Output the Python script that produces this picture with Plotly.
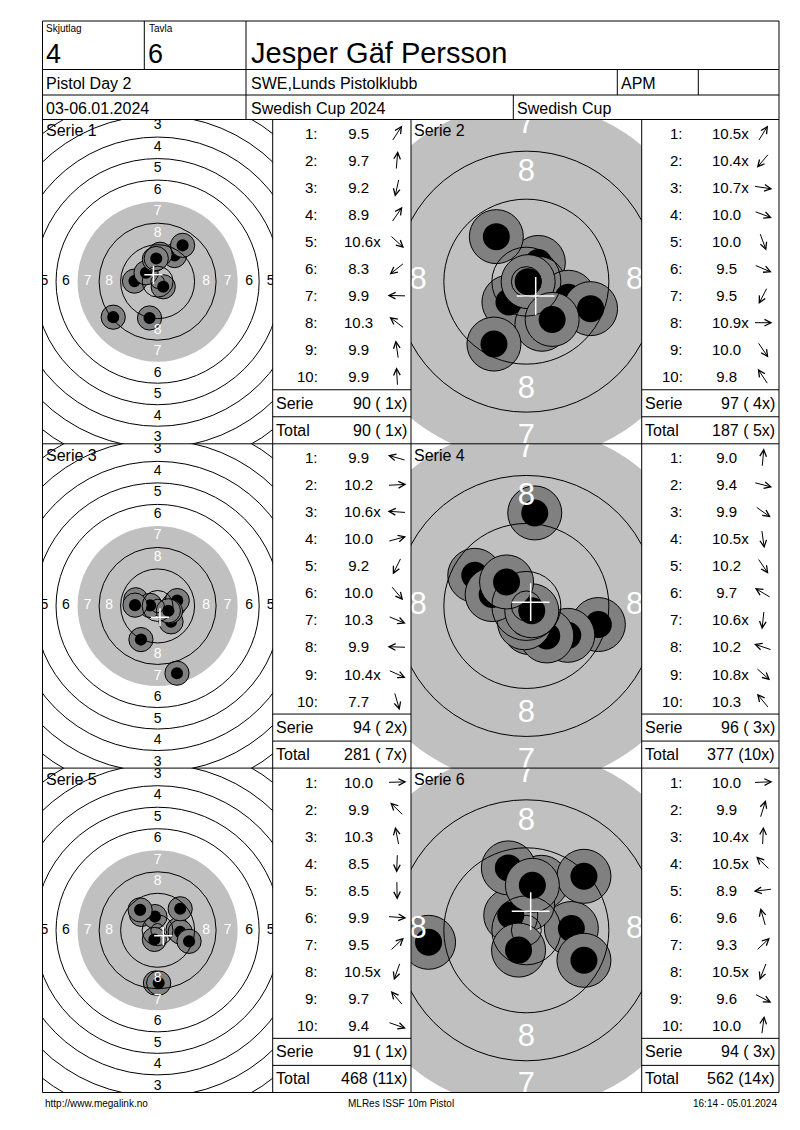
import math
import numpy as np
import plotly.graph_objs as go

# the page body has an 8px margin, so the figure starts at (8, 8)
OFF = 8
W, H = 780, 1112
FONT = 'Liberation Sans, Arial, sans-serif'

# header / footer texts
squad = '4'
target_no = '6'
shooter = 'Jesper Gäf Persson'
match_day = 'Pistol Day 2'
club = 'SWE,Lunds Pistolklubb'
shooter_class = 'APM'
dates = '03-06.01.2024'
event = 'Swedish Cup 2024'
event_short = 'Swedish Cup'
footer_left = 'http://www.megalink.no'
footer_mid = 'MLRes ISSF 10m Pistol'
footer_right = '16:14 - 05.01.2024'

serie_names = ['Serie 1', 'Serie 2', 'Serie 3', 'Serie 4', 'Serie 5', 'Serie 6']

# shots: score text and hit position (mm from centre, y up)
s1_scores = ['9.5', '9.7', '9.2', '8.9', '10.6x', '8.3', '9.9', '10.3', '9.9', '9.9']
s1_x = [6.3, 0.9, -3.0, 9.3, 2.1, -16.5, -8.6, -4.3, -1.2, -0.5]
s1_y = [9.7, 10.2, -13.5, 13.5, -1.9, -13.2, 0.2, 3.3, 8.3, 8.6]

s2_scores = ['10.5x', '10.4x', '10.7x', '10.0', '10.0', '9.5', '9.5', '10.9x', '10.0', '9.8']
s2_x = [2.0, -2.9, 2.0, 7.0, 2.6, 10.7, -5.4, 0.3, 4.3, -5.0]
s2_y = [3.2, -3.4, -0.3, -2.6, -7.1, -4.5, -10.4, 0.0, -6.3, 7.5]

s3_scores = ['9.9', '10.2', '10.6x', '10.0', '9.2', '10.0', '10.3', '9.9', '10.4x', '7.7']
s3_x = [-8.1, 6.0, -2.8, 7.3, -6.2, 5.0, 4.8, -8.4, 4.0, 7.2]
s3_y = [2.3, 0.3, 0.2, 2.0, -12.5, -5.9, -2.0, 0.3, -1.8, -25.0]

s4_scores = ['9.0', '9.4', '9.9', '10.5x', '10.2', '9.7', '10.6x', '10.2', '10.8x', '10.3']
s4_x = [1.4, 12.0, 6.9, 0.5, 3.4, -8.6, -0.3, -5.7, 0.9, -3.3]
s4_y = [15.5, -3.1, -4.9, -3.6, -5.0, 5.1, -2.8, 1.9, -0.8, 4.0]

s5_scores = ['10.0', '9.9', '10.3', '8.5', '8.5', '9.9', '9.5', '10.5x', '9.7', '9.4']
s5_x = [7.6, -6.0, -1.0, -0.8, 0.4, 8.4, 8.4, -1.2, -6.5, 11.7]
s5_y = [0.2, 5.9, 5.1, -19.6, -19.6, -0.6, 8.0, -3.4, 7.6, -4.1]

s6_scores = ['10.0', '9.9', '10.4x', '10.5x', '8.9', '9.6', '9.3', '10.5x', '9.6', '10.0']
s6_x = [7.5, 2.5, 0.2, -2.6, -16.3, -3.0, 9.6, -1.3, 9.6, 1.0]
s6_y = [0.3, 8.0, 4.4, 2.5, -2.0, 10.4, 9.0, -3.3, -5.0, 7.5]

all_scores = [s1_scores, s2_scores, s3_scores, s4_scores, s5_scores, s6_scores]
all_x = [s1_x, s2_x, s3_x, s4_x, s5_x, s6_x]
all_y = [s1_y, s2_y, s3_y, s4_y, s5_y, s6_y]

# ISSF 10m pistol target (mm)
ring_numbers = list(range(1, 11))
ring_radius = {n: 5.75 + 8 * (10 - n) for n in ring_numbers}
inner_ten = 2.5
black_radius = ring_radius[7]
shot_radius = 2.25

# page layout (pixels of the browser window)
L, R = 42.5, 779
row_tops = [119.5, 443.8, 768.1, 1092.5]
rh = (row_tops[1] - row_tops[0]) / 12


def px(x):
    return (x - OFF) / W


def py(y):
    return 1 - (y - OFF) / H


fig = go.Figure()
shapes = []
annotations = []


def line(x0, y0, x1, y1):
    shapes.append(dict(type='line', xref='paper', yref='paper', x0=px(x0), y0=py(y0),
                       x1=px(x1), y1=py(y1), line=dict(color='black', width=1), layer='above'))


def text(x, y, s, size, anchor='left', color='black'):
    annotations.append(dict(x=px(x), y=py(y), xref='paper', yref='paper', text=s, showarrow=False,
                            xanchor=anchor, yanchor='middle', font=dict(family=FONT, size=size, color=color)))


run_total = 0
run_x = 0
for i in range(6):
    row, col = i // 2, i % 2
    top, bottom = row_tops[row], row_tops[row + 1]
    if col == 0:
        x0, x1, scale, label_size, cross_size = L, 272.7, 2.69, 14, 13
        lx0, lx1, colon_r, score_l, arrow_c = 272.7, 411, 320, 341.5, 397
    else:
        x0, x1, scale, label_size, cross_size = 411, 641.7, 6.0, 31, 27
        lx0, lx1, colon_r, score_l, arrow_c = 641.7, R, 684.5, 710, 763

    sid = '' if i == 0 else str(i + 1)
    xr, yr = 'x' + sid, 'y' + sid
    hw = (x1 - x0) / 2 / scale
    hh = (bottom - top) / 2 / scale
    fig.update_layout(**{
        'xaxis' + sid: dict(domain=[px(x0), px(x1)], range=[-hw, hw], visible=False,
                            fixedrange=True, anchor=yr),
        'yaxis' + sid: dict(domain=[py(bottom), py(top)], range=[-hh, hh], visible=False,
                            fixedrange=True, anchor=xr),
    })

    def circle(r, cx=0, cy=0, fill=None, lw=1):
        shapes.append(dict(type='circle', xref=xr, yref=yr, x0=cx - r, x1=cx + r, y0=cy - r, y1=cy + r,
                           fillcolor=fill if fill else 'rgba(0,0,0,0)',
                           line=dict(color='black', width=lw), layer='below'))

    circle(black_radius, fill='#c0c0c0', lw=0)
    xs, ys, sc = all_x[i], all_y[i], all_scores[i]
    for k in range(10):
        circle(2 * shot_radius, xs[k], ys[k], fill='#808080', lw=1)
        circle(shot_radius, xs[k], ys[k], fill='black', lw=0)
    for n in ring_numbers:
        if n != 7:
            circle(ring_radius[n])
    circle(inner_ten)

    # ring numbers
    lab_x, lab_y, lab_t, lab_c = [], [], [], []
    for n in range(1, 9):
        d = ring_radius[n] - 3.7
        for dx, dy in [(0, d), (0, -d), (d, 0), (-d, 0)]:
            lab_x.append(dx)
            lab_y.append(dy)
            lab_t.append(str(n))
            lab_c.append('white' if n >= 7 else 'black')
    fig.add_trace(go.Scatter(x=lab_x, y=lab_y, text=lab_t, mode='text', textposition='middle center',
                             textfont=dict(family=FONT, size=label_size, color=lab_c),
                             xaxis=xr, yaxis=yr, cliponaxis=True, hoverinfo='skip', showlegend=False))
    fig.add_trace(go.Scatter(x=[np.mean(xs)], y=[np.mean(ys)], mode='markers',
                             marker=dict(symbol='cross-thin', size=cross_size,
                                         line=dict(color='white', width=1.5)),
                             xaxis=xr, yaxis=yr, hoverinfo='skip', showlegend=False))

    annotations.append(dict(x=px(x0 + 1), y=py(top + 1), xref='paper', yref='paper', text=serie_names[i],
                            showarrow=False, xanchor='left', yanchor='top',
                            font=dict(family=FONT, size=16, color='black')))

    # shot list
    serie_total = 0
    serie_x = 0
    for k in range(10):
        yc = top + rh * k + rh / 2 + 0.5
        s = sc[k]
        text(colon_r, yc, '%d:' % (k + 1), 15, 'right')
        pad = '\u00a0' if len(s.split('.')[0]) == 1 else ''
        text(score_l, yc, pad + s, 15, 'left')
        ang = math.atan2(ys[k], xs[k])
        alen = 19
        hx = arrow_c + alen / 2 * math.cos(ang)
        hy = yc - alen / 2 * math.sin(ang)
        annotations.append(dict(x=px(hx), y=py(hy), xref='paper', yref='paper', text='',
                                showarrow=True, ax=-alen * math.cos(ang), ay=alen * math.sin(ang),
                                arrowhead=5, arrowsize=1.3, arrowwidth=1, arrowcolor='black',
                                standoff=0, startstandoff=0))
        serie_total += int(float(s.rstrip('x')))
        serie_x += s.endswith('x')
    run_total += serie_total
    run_x += serie_x

    ys_line = top + rh * 10
    yt_line = top + rh * 11
    line(lx0, ys_line, lx1, ys_line)
    line(lx0, yt_line, lx1, yt_line)
    text(lx0 + 1.5, ys_line + rh / 2, 'Serie', 16)
    text(lx1 - 2, ys_line + rh / 2, '%d (%sx)' % (serie_total, ('%2d' % serie_x).replace(' ', '\u00a0')), 16, 'right')
    text(lx0 + 1.5, yt_line + rh / 2, 'Total', 16)
    text(lx1 - 2, yt_line + rh / 2, '%d (%sx)' % (run_total, ('%2d' % run_x).replace(' ', '\u00a0')), 16, 'right')

# grid lines
line(L, 21, R, 21)
line(L, 69.5, R, 69.5)
line(L, 95, R, 95)
for yy in row_tops:
    line(L, yy, R, yy)
line(L, 21, L, row_tops[-1])
line(R, 21, R, row_tops[-1])
line(144.3, 21, 144.3, 69.5)
line(246, 21, 246, 119.5)
line(617.3, 69.5, 617.3, 95)
line(698.3, 69.5, 698.3, 95)
line(513.3, 95, 513.3, 119.5)
for xx in [272.7, 411, 641.7]:
    line(xx, row_tops[0], xx, row_tops[-1])

# header
text(44, 28, 'Skjutlag', 10)
text(146.5, 28, 'Tavla', 10)
text(43.5, 54, squad, 27)
text(146, 54, target_no, 27)
text(248.5, 53, shooter, 29)
text(44, 83, match_day, 16)
text(248.5, 83, club, 16)
text(619, 83, shooter_class, 16)
text(44, 108, dates, 16)
text(248.5, 108, event, 16)
text(515, 108, event_short, 16)

# footer
text(L, 1103, footer_left, 10)
text(401, 1103, footer_mid, 10, 'center')
text(R, 1103, footer_right, 10, 'right')

fig.update_layout(width=W, height=H, margin=dict(l=0, r=0, t=0, b=0),
                  paper_bgcolor='white', plot_bgcolor='white',
                  shapes=shapes, annotations=annotations, showlegend=False)

fig.write_html('out.html')
